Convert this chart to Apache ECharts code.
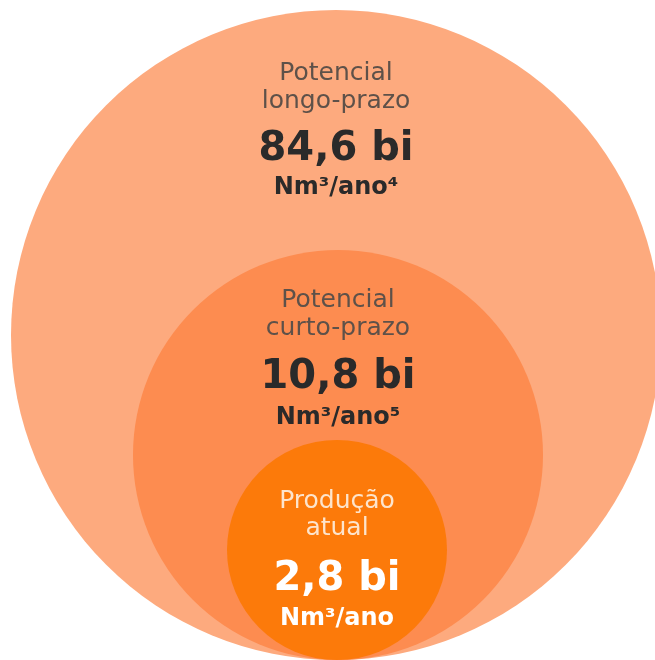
<!DOCTYPE html>
<html>
<head>
<meta charset="utf-8">
<script src="https://cdn.jsdelivr.net/npm/echarts@6/dist/echarts.min.js"></script>
<style>
  html, body { margin: 0; padding: 0; background: #fff; }
  #chart { width: 655px; height: 660px; }
</style>
</head>
<body>
<div id="chart"></div>
<script>
// valores
var labels = [['Potencial', 'longo-prazo'], ['Potencial', 'curto-prazo'], ['Produção', 'atual']];
var values = [84.6, 10.8, 2.8];
var units = ['Nm³/ano⁴', 'Nm³/ano⁵', 'Nm³/ano'];
// circulos tangentes na base (unidades do eixo = px)
var centerX = [336, 338, 337];
var radius = [325, 205, 110];

var colors = ['#fdaa7e', '#fd8c50', '#fc7a0a'];
var labelColor = ['#5e5149', '#5e5149', '#fde4cc'];
var valueColor = ['#2a2a2a', '#2a2a2a', '#ffffff'];
// deslocamentos do texto a partir do topo do circulo
var textOffset = [[77, 140, 178], [64, 128, 168], [75, 140, 179]];
var lineH = [28, 28, 27];
var font = 'DejaVu Sans';

var chart = echarts.init(document.getElementById('chart'));

var data = centerX.map(function (x, i) {
  return [x, radius[i]];
});

chart.setOption({
  animation: false,
  grid: { left: 0, right: 0, top: 0, bottom: 0 },
  xAxis: { type: 'value', min: 0, max: 655, show: false },
  yAxis: { type: 'value', min: 0, max: 660, show: false },
  series: [{
    type: 'custom',
    data: data,
    renderItem: function (params, api) {
      var i = params.dataIndex;
      var c = api.coord([api.value(0), api.value(1)]);
      var r = api.size([0, api.value(1)])[1];
      var top = c[1] - r;
      var off = textOffset[i];
      return {
        type: 'group',
        children: [{
          type: 'circle',
          shape: { cx: c[0], cy: c[1], r: r },
          style: { fill: colors[i] }
        }, {
          type: 'text',
          x: c[0],
          y: top + off[0],
          style: {
            text: labels[i].join('\n'),
            fill: labelColor[i],
            fontFamily: font,
            fontSize: 25,
            lineHeight: lineH[i],
            align: 'center',
            verticalAlign: 'middle'
          }
        }, {
          type: 'text',
          x: c[0],
          y: top + off[1],
          style: {
            text: values[i].toFixed(1).replace('.', ',') + ' bi',
            fill: valueColor[i],
            fontFamily: font,
            fontWeight: 'bold',
            fontSize: 40,
            align: 'center',
            verticalAlign: 'middle'
          }
        }, {
          type: 'text',
          x: c[0],
          y: top + off[2],
          style: {
            text: units[i],
            fill: valueColor[i],
            fontFamily: font,
            fontWeight: 'bold',
            fontSize: 24,
            align: 'center',
            verticalAlign: 'middle'
          }
        }]
      };
    }
  }]
});
</script>
</body>
</html>
